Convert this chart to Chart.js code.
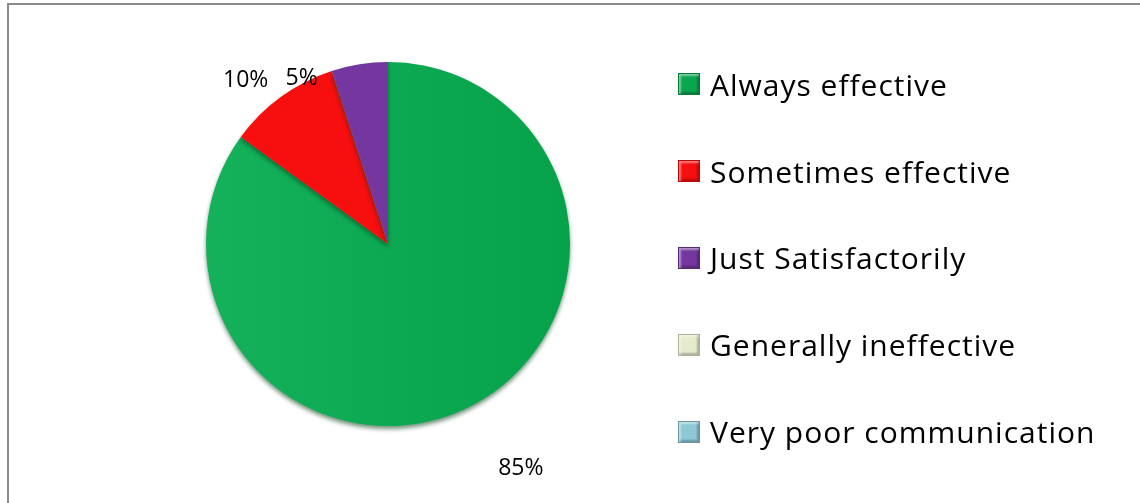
<!DOCTYPE html>
<html>
<head>
<meta charset="utf-8">
<script src="https://cdn.jsdelivr.net/npm/chart.js@4.4.0/dist/chart.umd.min.js"></script>
<style>
  html, body { margin: 0; padding: 0; background: #fff; }
  #wrap { position: relative; width: 1140px; height: 503px; overflow: hidden; }
  #frame { position: absolute; left: 7px; top: 3px; width: 1200px; height: 600px;
           border-left: 2px solid #8a8a8a; border-top: 2px solid #8a8a8a; }
  #chartBox { position: absolute; left: 0; top: 0; width: 1140px; height: 503px; }
  #legend { position: absolute; left: 678px; top: 41px; margin: 0; padding: 0; list-style: none;
            font-family: "Open Sans", Lato, sans-serif; font-size: 30px; letter-spacing: 1px; color: #000; }
  #legend li { height: 86.8px; display: flex; align-items: center; white-space: nowrap; }
  #legend .box { width: 22px; height: 22px; margin-right: 10px; box-sizing: border-box; flex: none;
                 border: 1px solid rgba(0,0,0,0.25);
                 box-shadow: inset 2px 2px 2px rgba(255,255,255,0.45), inset -2px -2px 2px rgba(0,0,0,0.25); }
</style>
</head>
<body>
<div id="wrap">
  <div id="frame"></div>
  <div id="chartBox"><canvas id="pieChart"></canvas></div>
  <ul id="legend"></ul>
</div>
<script>
const labels = ['Always effective', 'Sometimes effective', 'Just Satisfactorily', 'Generally ineffective', 'Very poor communication'];
const values = [85, 10, 5, 0, 0];
const colors = ['#0aa64f', '#f70e0e', '#7437a0', '#e5ebcd', '#8ec8d6'];

// tweak where excel put each percentage label (angle shift in degrees, distance past the rim)
const labelShift = [-3.6, -5, -18.5];
const labelDist = [79, 35, 5];

const pctLabels = {
    id: 'pctLabels',
    afterDatasetsDraw(chart) {
        const ctx = chart.ctx;
        const meta = chart.getDatasetMeta(0);
        const total = values.reduce((a, b) => a + b, 0);
        ctx.save();
        ctx.font = '23px "Open Sans", Lato, sans-serif';
        ctx.fillStyle = '#000';
        ctx.textAlign = 'center';
        ctx.textBaseline = 'middle';
        meta.data.forEach((arc, i) => {
            if (!values[i]) return;
            const p = arc.getProps(['x', 'y', 'startAngle', 'endAngle', 'outerRadius'], true);
            let mid = (p.startAngle + p.endAngle) / 2 + (labelShift[i] || 0) * Math.PI / 180;
            const r = p.outerRadius + (labelDist[i] || 30);
            const txt = Math.round(values[i] / total * 100) + '%';
            ctx.fillText(txt, p.x + Math.cos(mid) * r, p.y + Math.sin(mid) * r);
        });
        ctx.restore();
    }
};

const pieShadow = {
    id: 'pieShadow',
    beforeDatasetsDraw(chart) {
        const ctx = chart.ctx;
        ctx.save();
        ctx.shadowColor = 'rgba(0, 60, 20, 0.55)';
        ctx.shadowBlur = 4;
        ctx.shadowOffsetY = 3;
    },
    afterDatasetsDraw(chart) {
        chart.ctx.restore();
    }
};

// slight left-to-right shading like the office "bevel" look
function sliceFill(context) {
    const chart = context.chart;
    const base = colors[context.dataIndex];
    if (context.dataIndex !== 0 || !chart.chartArea) return base;
    const a = chart.chartArea;
    const g = chart.ctx.createLinearGradient(a.left + 200, 0, a.right - 200, 0);
    g.addColorStop(0, '#15b15b');
    g.addColorStop(1, '#05a24a');
    return g;
}

var ctx = document.getElementById('pieChart').getContext('2d');
var myPieChart = new Chart(ctx, {
    type: 'pie',
    data: {
        labels: labels,
        datasets: [{
            data: values,
            backgroundColor: sliceFill,
            borderWidth: 0,
            radius: 182
        }]
    },
    options: {
        responsive: true,
        maintainAspectRatio: false,
        animation: false,
        layout: {
            padding: { left: 0, right: 364, top: 0, bottom: 15 }
        },
        plugins: {
            legend: { display: false },
            tooltip: { enabled: false }
        }
    },
    plugins: [pieShadow, pctLabels]
});

// html legend built from the same arrays
var ul = document.getElementById('legend');
labels.forEach(function (lab, i) {
    var li = document.createElement('li');
    var box = document.createElement('span');
    box.className = 'box';
    box.style.background = colors[i];
    li.appendChild(box);
    li.appendChild(document.createTextNode(lab));
    ul.appendChild(li);
});
</script>
</body>
</html>
